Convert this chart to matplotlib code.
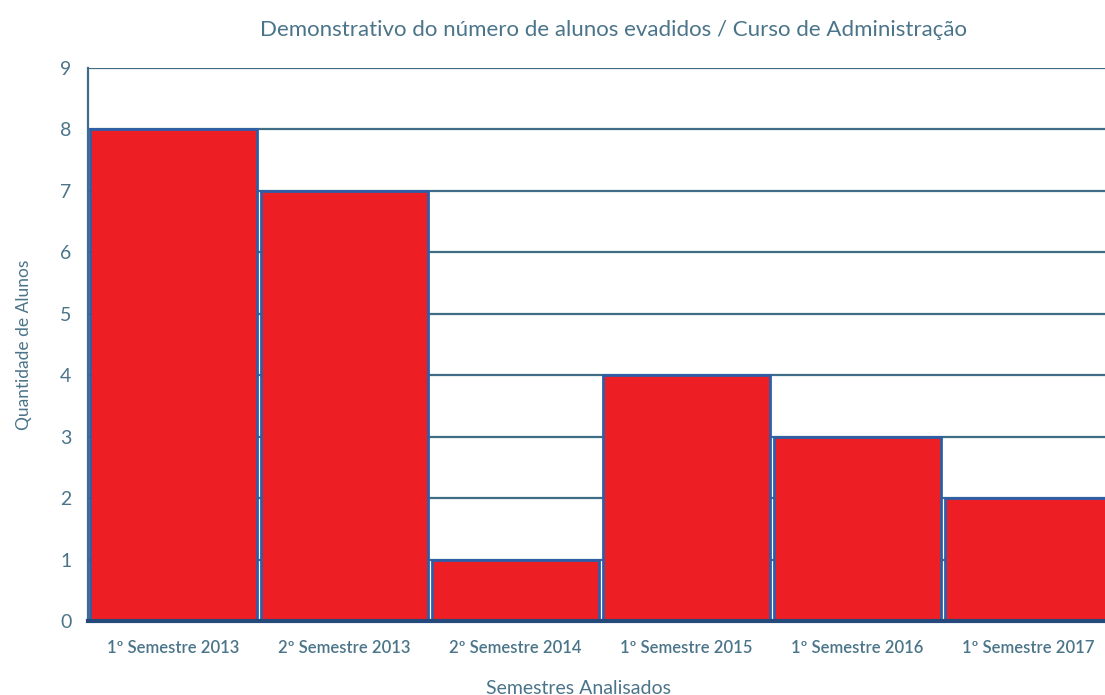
import matplotlib.pyplot as plt

# data
semestres = ['1º Semestre 2013', '2º Semestre 2013', '2º Semestre 2014',
             '1º Semestre 2015', '1º Semestre 2016', '1º Semestre 2017']
evadidos = [8, 7, 1, 4, 3, 2]
y_ticks = list(range(0, 10))

text_col = '#4a7489'
grid_col = '#3f6d85'

plt.rcParams['font.family'] = ['Lato', 'DejaVu Sans']

fig = plt.figure(figsize=(11.05, 6.95), dpi=100)
ax = fig.add_axes([88 / 1105, 1 - 621 / 695, (1114 - 88) / 1105, (621 - 68) / 695])

x = range(len(semestres))
ax.bar(x, evadidos, width=0.975, color='#ed1f24', edgecolor='#2f5ea8',
       linewidth=2, zorder=3)

ax.set_xlim(-0.5, len(semestres) - 0.5)
ax.set_ylim(0, 9)
ax.set_yticks(y_ticks)
ax.set_xticks(list(x))
ax.set_xticklabels(semestres, fontsize=12, color=text_col)
ax.tick_params(axis='y', length=0, pad=12, labelsize=14, labelcolor=text_col)
ax.tick_params(axis='x', length=0, pad=14)
for lbl in ax.get_xticklabels():
    lbl.set_fontweight('semibold')

ax.yaxis.grid(True, color=grid_col, linewidth=1.6, zorder=0)
ax.set_axisbelow(True)
ax.spines['right'].set_visible(False)
ax.spines['top'].set_visible(False)
ax.spines['left'].set_color(grid_col)
ax.spines['left'].set_linewidth(1.6)
ax.spines['bottom'].set_color('#24497a')
ax.spines['bottom'].set_linewidth(3)
ax.spines['bottom'].set_zorder(4)

ax.set_ylabel('Quantidade de Alunos', fontsize=12.5, color=text_col, labelpad=20)
fig.text(578 / 1105, 1 - 688 / 695, 'Semestres Analisados', fontsize=14,
         color=text_col, ha='center', va='center')
fig.text(613 / 1105, 1 - 30 / 695,
         'Demonstrativo do número de alunos evadidos / Curso de Administração',
         fontsize=16, color=text_col, ha='center', va='center')

fig.savefig('out.png', dpi=100)
